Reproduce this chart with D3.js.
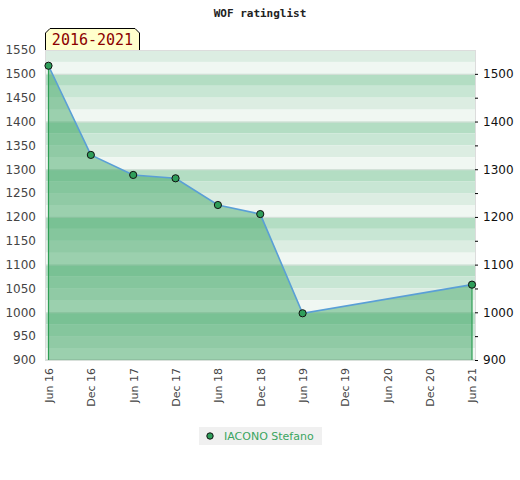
<!DOCTYPE html>
<html>
<head>
<meta charset="utf-8">
<script src="https://cdn.jsdelivr.net/npm/d3@7"></script>
<style>
  body { margin: 0; background: #fff; }
  svg text { font-family: "DejaVu Sans", Verdana, sans-serif; }
</style>
</head>
<body>
<div id="d3-container"></div>
<script>
// chart data
const monthLabels = ["Jun 16", "Dec 16", "Jun 17", "Dec 17", "Jun 18", "Dec 18", "Jun 19", "Dec 19", "Jun 20", "Dec 20", "Jun 21"];
const ratingDates = ["Jun 16", "Dec 16", "Jun 17", "Dec 17", "Jun 18", "Dec 18", "Jun 19", "Jun 21"];
const ratingValues = [1517, 1330, 1288, 1281, 1225, 1206, 998, 1058];
const leftTicks = [900, 950, 1000, 1050, 1100, 1150, 1200, 1250, 1300, 1350, 1400, 1450, 1500, 1550];
const rightTicks = [900, 1000, 1100, 1200, 1300, 1400, 1500];
const playerName = "IACONO Stefano";
const periodLabel = "2016-2021";

let margin = { top: 50, left: 45, right: 44, bottom: 120 },
width = 520 - margin.left - margin.right,
height = 480 - margin.top - margin.bottom;

let svg = d3.select('#d3-container')
.append('svg')
.attr('width', 520)
.attr('height', 480);

let g = svg.append('g')
.attr('transform', `translate(${margin.left},${margin.top})`);

const x = d3.scalePoint()
.domain(monthLabels)
.range([3.5, width - 4]);

const y = d3.scaleLinear()
.domain([900, 1550])
.range([height, 0]);

const data = ratingDates.map((d, i) => ({ date: d, value: ratingValues[i] }));

// background stripes, 4 shades per 100 points
const shades = ['#b3ddc3', '#c8e6d4', '#dcede2', '#f0f7f2'];
let stripes = [];
for (let top = 1600; top > 900; top -= 25) {
  let lo = Math.max(top - 25, 900), hi = Math.min(top, 1550);
  if (hi <= lo) continue;
  let k = Math.round(((1600 - top) % 100) / 25);
  stripes.push({ lo: lo, hi: hi, fill: shades[k] });
}
g.append('g')
.selectAll('rect')
.data(stripes)
.join('rect')
.attr('x', 0)
.attr('width', width)
.attr('y', d => y(d.hi))
.attr('height', d => y(d.lo) - y(d.hi))
.attr('fill', d => d.fill);

// faint grid lines
g.append('g')
.selectAll('line')
.data(leftTicks.filter(t => t % 100 == 0))
.join('line')
.attr('x1', 0)
.attr('x2', width)
.attr('y1', d => y(d) + 0.5)
.attr('y2', d => y(d) + 0.5)
.attr('stroke', '#d8e0da')
.attr('stroke-width', 1);

// frame
g.append('rect')
.attr('x', 0.5)
.attr('y', 0.5)
.attr('width', width - 1)
.attr('height', height - 1)
.attr('fill', 'none')
.attr('stroke', '#dcdcdc');

// area under the line
const area = d3.area()
.x(d => x(d.date))
.y0(y(900))
.y1(d => y(d.value));
g.append('path')
.datum(data)
.attr('d', area)
.attr('fill', 'rgb(50,160,90)')
.attr('fill-opacity', 0.45);

// green edges at both ends
g.append('g')
.selectAll('line')
.data([data[0], data[data.length - 1]])
.join('line')
.attr('x1', d => x(d.date))
.attr('x2', d => x(d.date))
.attr('y1', d => y(d.value))
.attr('y2', y(900))
.attr('stroke', '#2f9e55')
.attr('stroke-width', 1.2);

// rating line
const line = d3.line()
.x(d => x(d.date))
.y(d => y(d.value));
g.append('path')
.datum(data)
.attr('d', line)
.attr('fill', 'none')
.attr('stroke', '#5a9fd6')
.attr('stroke-width', 1.6);

// points
g.append('g')
.selectAll('circle')
.data(data)
.join('circle')
.attr('cx', d => x(d.date))
.attr('cy', d => y(d.value))
.attr('r', 3.6)
.attr('fill', '#2f9e5a')
.attr('stroke', '#111')
.attr('stroke-width', 1);

// left axis
const leftAxis = g.append('g')
.call(d3.axisLeft(y).tickValues(leftTicks).tickFormat(d3.format('d')).tickSize(0).tickPadding(9));
leftAxis.select('.domain').remove();
leftAxis.selectAll('text')
.attr('fill', '#444')
.style('font-size', '12px');

// right axis
const rightAxis = g.append('g')
.attr('transform', `translate(${width},0)`)
.call(d3.axisRight(y).tickValues(rightTicks).tickFormat(d3.format('d')).tickSize(3).tickPadding(4));
rightAxis.select('.domain').remove();
rightAxis.selectAll('line')
.attr('x1', -1)
.attr('x2', 2)
.attr('stroke', '#000');
rightAxis.selectAll('text')
.attr('fill', '#111')
.style('font-size', '12px');
// minor ticks on the right
rightAxis.append('g')
.selectAll('line')
.data(leftTicks.filter(t => t % 100 == 50 && t < 1550))
.join('line')
.attr('x1', -1)
.attr('x2', 2)
.attr('y1', d => y(d) + 0.5)
.attr('y2', d => y(d) + 0.5)
.attr('stroke', '#000');

// bottom axis
const bottomAxis = g.append('g')
.attr('transform', `translate(0,${height})`)
.call(d3.axisBottom(x).tickSize(0).tickPadding(0));
bottomAxis.select('.domain').remove();
bottomAxis.selectAll('text')
.attr('transform', 'translate(0,8)rotate(-90)')
.attr('x', 0)
.attr('y', 0)
.attr('dy', '0.35em')
.style('text-anchor', 'end')
.attr('fill', '#444')
.style('font-size', '11px');

// title
svg.append('text')
.attr('x', 260)
.attr('y', 17)
.attr('text-anchor', 'middle')
.style('font-family', '"DejaVu Sans Mono", monospace')
.style('font-weight', 'bold')
.style('font-size', '11px')
.attr('fill', '#222')
.text('WOF ratinglist');

// period label box with clipped top corners
const bx = 45, by = 28, bw = 95, bh = 22, c = 5;
svg.append('path')
.attr('d', `M${bx + 0.5},${by + bh} L${bx + 0.5},${by + c} L${bx + c},${by + 0.5} L${bx + bw - c},${by + 0.5} L${bx + bw - 0.5},${by + c} L${bx + bw - 0.5},${by + bh}`)
.attr('fill', '#ffffcc')
.attr('stroke', '#000')
.attr('stroke-width', 1);
svg.append('text')
.attr('x', bx + bw / 2)
.attr('y', by + 17)
.attr('text-anchor', 'middle')
.style('font-family', '"DejaVu Sans Mono", monospace')
.style('font-size', '15px')
.attr('fill', '#8b0000')
.text(periodLabel);

// legend
const legend = svg.append('g').attr('transform', 'translate(199,427)');
legend.append('rect')
.attr('width', 123)
.attr('height', 18)
.attr('fill', '#f0f0f0');
legend.append('circle')
.attr('cx', 11)
.attr('cy', 9)
.attr('r', 3.2)
.attr('fill', '#2f9e5a')
.attr('stroke', '#111');
legend.append('text')
.attr('x', 25)
.attr('y', 13)
.style('font-size', '11px')
.attr('fill', '#3aa55f')
.text(playerName);
</script>
</body>
</html>
